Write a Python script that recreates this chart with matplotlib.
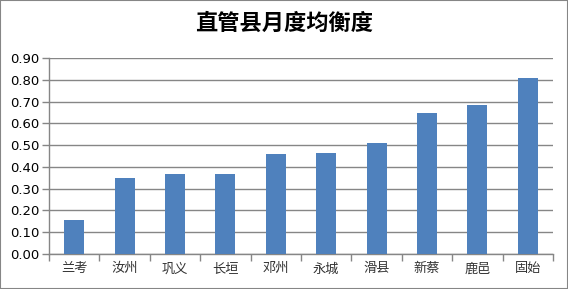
import matplotlib.pyplot as plt
import numpy as np
from matplotlib.patches import Rectangle

plt.rcParams['font.family'] = ['Noto Sans CJK SC', 'DejaVu Sans']

# Data
counties = ['兰考', '汝州', '巩义', '长垣', '邓州', '永城', '滑县', '新蔡', '鹿邑', '固始']
balance = [0.156, 0.35, 0.368, 0.368, 0.46, 0.465, 0.51, 0.649, 0.685, 0.81]
yticks = [0.0, 0.1, 0.2, 0.3, 0.4, 0.5, 0.6, 0.7, 0.8, 0.9]

fig = plt.figure(figsize=(5.68, 2.89), dpi=100)
ax = fig.add_axes([49 / 568, 1 - 254 / 289, (553 - 49) / 568, (254 - 58) / 289])

x = np.arange(len(counties))
ax.bar(x, balance, width=0.4, color='#4f81bd', zorder=3)

ax.set_xlim(-0.5, len(counties) - 0.5)
ax.set_ylim(0, 0.9)
ax.set_yticks(yticks)
ax.set_yticklabels([f'{v:.2f}' for v in yticks], family='DejaVu Sans', fontsize=9.5)
ax.yaxis.grid(True, color='#868686', linewidth=1, zorder=0)

ax.set_xticks(x)
ax.set_xticklabels(counties, fontsize=9.5, color='#333333')
ax.set_xticks(np.arange(-0.5, len(counties)), minor=True)
ax.tick_params(axis='x', which='major', length=0, pad=6)
ax.tick_params(axis='x', which='minor', length=5, color='#868686', width=1)
ax.tick_params(axis='y', length=5, color='#868686', width=1, pad=2)

for s in ['top', 'right']:
    ax.spines[s].set_visible(False)
for s in ['left', 'bottom']:
    ax.spines[s].set_color('#868686')
    ax.spines[s].set_linewidth(1)

fig.text(0.5, 1 - 23 / 289, '直管县月度均衡度', ha='center', va='center',
         fontsize=16, fontweight='bold')

fig.patches.append(Rectangle((0, 0), 1, 1, transform=fig.transFigure, fill=False,
                             edgecolor='#868686', linewidth=1.5))

fig.savefig('out.png', dpi=100)
